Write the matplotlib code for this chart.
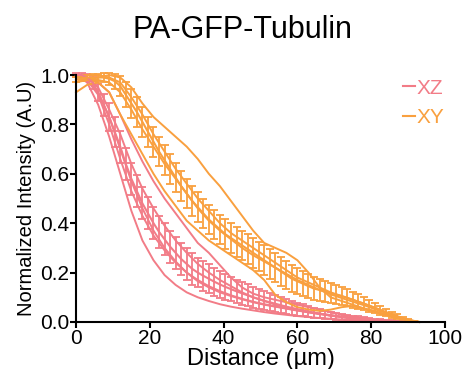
import numpy as np
import matplotlib
matplotlib.use("Agg")
import matplotlib.pyplot as plt
from matplotlib.lines import Line2D

plt.rcParams['font.family'] = ['Liberation Sans', 'DejaVu Sans']

# ---- data ----
x_mean = np.arange(0, 94, 1.5)  # sampling grid (µm), 63 points

xz_mean = [1.00, 1.00, 0.99, 0.97, 0.93, 0.88, 0.83, 0.77, 0.71, 0.64, 0.58, 0.53, 0.48, 0.44,
           0.40, 0.365, 0.335, 0.305, 0.28, 0.255, 0.235, 0.215,
           0.20, 0.187, 0.175, 0.163, 0.152, 0.142, 0.133, 0.124, 0.116, 0.108, 0.100, 0.093,
           0.086, 0.080, 0.074, 0.068, 0.062, 0.057, 0.052, 0.047, 0.042, 0.038, 0.034, 0.030,
           0.026, 0.023, 0.020, 0.017, 0.015, 0.013, 0.011, 0.009, 0.007, 0.005, 0.004, 0.003,
           0.002, 0.001, 0.0, 0.0, 0.0]
xz_err = [0.01, 0.01, 0.015, 0.025, 0.035, 0.045, 0.055, 0.06,
          0.065, 0.065, 0.065, 0.065, 0.065, 0.065, 0.065, 0.065, 0.065, 0.065, 0.065, 0.065, 0.065, 0.065,
          0.06, 0.06, 0.058, 0.056, 0.054, 0.052, 0.05, 0.048, 0.046,
          0.044, 0.042, 0.04, 0.038, 0.036, 0.034, 0.032, 0.03, 0.028, 0.026,
          0.024, 0.022, 0.02, 0.018, 0.016, 0.015, 0.014, 0.013, 0.012, 0.011, 0.01, 0.009,
          0.008, 0.007, 0.006, 0.005, 0.004, 0.003, 0.002, 0.001, 0.0, 0.0]

xy_mean = [0.98, 0.985, 0.99, 0.99, 0.99, 0.99, 0.985, 0.975, 0.955, 0.92, 0.885, 0.85, 0.81,
           0.77, 0.73, 0.69, 0.655, 0.62, 0.585, 0.55, 0.52, 0.49, 0.465, 0.44, 0.415, 0.395,
           0.375, 0.355, 0.34, 0.325, 0.31, 0.295, 0.28, 0.265, 0.25, 0.235, 0.22, 0.205, 0.19,
           0.175, 0.165, 0.155, 0.145, 0.135,
           0.13, 0.123, 0.117, 0.111, 0.105, 0.098, 0.09, 0.082, 0.074, 0.066, 0.057, 0.048,
           0.039, 0.030, 0.022, 0.014, 0.008, 0.003, 0.0]
xy_err = [0.01, 0.01, 0.012, 0.014, 0.016, 0.02, 0.025, 0.03, 0.04, 0.05,
          0.06, 0.06, 0.06, 0.06, 0.06, 0.06, 0.06, 0.06, 0.06, 0.06, 0.06, 0.06, 0.06, 0.06,
          0.06, 0.06, 0.06, 0.06, 0.06, 0.06, 0.06, 0.06, 0.06, 0.06, 0.06, 0.06, 0.06,
          0.058, 0.056, 0.054, 0.052, 0.05, 0.048, 0.046, 0.044, 0.042, 0.04, 0.038, 0.036,
          0.034, 0.032, 0.03, 0.027, 0.024, 0.021, 0.018, 0.015, 0.012, 0.009, 0.006, 0.004,
          0.002, 0.0]

x_trace = np.arange(0, 94, 3)  # 32 points

xz_traces = [
    [1.0, 0.97, 0.88, 0.75, 0.60, 0.45, 0.33, 0.25, 0.19, 0.15, 0.12, 0.10, 0.085, 0.072, 0.062, 0.054,
     0.047, 0.040, 0.034, 0.029, 0.024, 0.020, 0.016, 0.013, 0.010, 0.008, 0.006, 0.004, 0.003, 0.001, 0.0, 0.0],
    [0.99, 0.99, 0.97, 0.93, 0.84, 0.74, 0.65, 0.57, 0.50, 0.44, 0.38, 0.32, 0.28, 0.23, 0.18, 0.14,
     0.115, 0.10, 0.09, 0.08, 0.07, 0.06, 0.05, 0.04, 0.03, 0.022, 0.015, 0.009, 0.005, 0.002, 0.0, 0.0],
    [1.0, 0.99, 0.95, 0.86, 0.76, 0.64, 0.54, 0.46, 0.39, 0.33, 0.28, 0.235, 0.20, 0.17, 0.145, 0.12,
     0.10, 0.085, 0.07, 0.06, 0.05, 0.04, 0.033, 0.026, 0.02, 0.015, 0.01, 0.007, 0.004, 0.002, 0.0, 0.0],
    [1.0, 0.98, 0.92, 0.80, 0.66, 0.53, 0.43, 0.35, 0.29, 0.24, 0.20, 0.17, 0.145, 0.125, 0.108, 0.094,
     0.082, 0.072, 0.063, 0.055, 0.047, 0.04, 0.034, 0.028, 0.022, 0.017, 0.012, 0.008, 0.005, 0.002, 0.0, 0.0],
    [0.99, 0.98, 0.93, 0.83, 0.70, 0.57, 0.46, 0.37, 0.30, 0.245, 0.20, 0.165, 0.14, 0.12, 0.105, 0.092,
     0.08, 0.07, 0.062, 0.054, 0.046, 0.039, 0.032, 0.026, 0.021, 0.016, 0.012, 0.008, 0.005, 0.003, 0.001, 0.0],
]
xy_traces = [
    [0.97, 0.98, 0.99, 1.0, 0.99, 0.95, 0.885, 0.83, 0.79, 0.75, 0.71, 0.66, 0.60, 0.55, 0.49, 0.43,
     0.37, 0.32, 0.30, 0.28, 0.25, 0.20, 0.14, 0.10, 0.085, 0.07, 0.055, 0.04, 0.028, 0.016, 0.006, 0.0],
    [0.93, 0.96, 0.97, 0.93, 0.84, 0.76, 0.68, 0.60, 0.53, 0.47, 0.41, 0.37, 0.33, 0.30, 0.27, 0.24,
     0.21, 0.17, 0.11, 0.08, 0.06, 0.05, 0.045, 0.05, 0.06, 0.065, 0.055, 0.045, 0.03, 0.018, 0.007, 0.0],
    [0.99, 1.0, 1.0, 0.99, 0.97, 0.91, 0.84, 0.76, 0.69, 0.62, 0.56, 0.50, 0.45, 0.40, 0.36, 0.33,
     0.30, 0.27, 0.24, 0.21, 0.18, 0.16, 0.14, 0.12, 0.105, 0.09, 0.075, 0.058, 0.04, 0.024, 0.01, 0.0],
    [1.0, 0.99, 0.98, 0.97, 0.93, 0.86, 0.78, 0.71, 0.64, 0.58, 0.52, 0.46, 0.41, 0.37, 0.335, 0.30,
     0.27, 0.245, 0.22, 0.195, 0.17, 0.15, 0.13, 0.112, 0.097, 0.082, 0.068, 0.052, 0.036, 0.021, 0.008, 0.0],
]

labels = ["XZ", "XY"]
colors = ["#F27C87", "#F9A03F"]

# ---- figure ----
fig = plt.figure(figsize=(4.68, 3.69), dpi=100)
ax = fig.add_axes([0.1624, 0.1274, 0.7885, 0.6693])

for traces, mean, err, col, lab in [(xz_traces, xz_mean, xz_err, colors[0], labels[0]),
                                    (xy_traces, xy_mean, xy_err, colors[1], labels[1])]:
    for t in traces:
        ax.plot(x_trace, t, color=col, lw=1.4, clip_on=False)
    ax.errorbar(x_mean, mean, yerr=err, color=col, lw=1.5, elinewidth=1.3,
                capsize=3, capthick=1.3, clip_on=False, label=lab)

ax.set_xlim(0, 100)
ax.set_ylim(0, 1.0)
ax.set_xticks([0, 20, 40, 60, 80, 100])
ax.set_yticks([0, 0.2, 0.4, 0.6, 0.8, 1.0])
ax.set_yticklabels(["0.0", "0.2", "0.4", "0.6", "0.8", "1.0"])
for s in ["top", "right"]:
    ax.spines[s].set_visible(False)
for s in ["left", "bottom"]:
    ax.spines[s].set_linewidth(1.5)
ax.tick_params(direction="out", length=4, width=1.5, labelsize=15, pad=1)

ax.set_xlabel("Distance (µm)", fontsize=17, labelpad=0)
ax.set_ylabel("Normalized Intensity (A.U)", fontsize=14.5, labelpad=3)
fig.text(0.519, 0.919, "PA-GFP-Tubulin", fontsize=22, ha="center", va="center")

handles = [Line2D([0], [0], color=c, lw=1.5) for c in colors]
leg = fig.legend(handles, labels, loc="upper left", bbox_to_anchor=(0.862, 0.787), frameon=False,
                 handlelength=0.55, handletextpad=0.1, fontsize=15, labelspacing=0.5,
                 borderpad=0, borderaxespad=0)
for txt, c in zip(leg.get_texts(), colors):
    txt.set_color(c)

fig.savefig("out.png", dpi=100)
